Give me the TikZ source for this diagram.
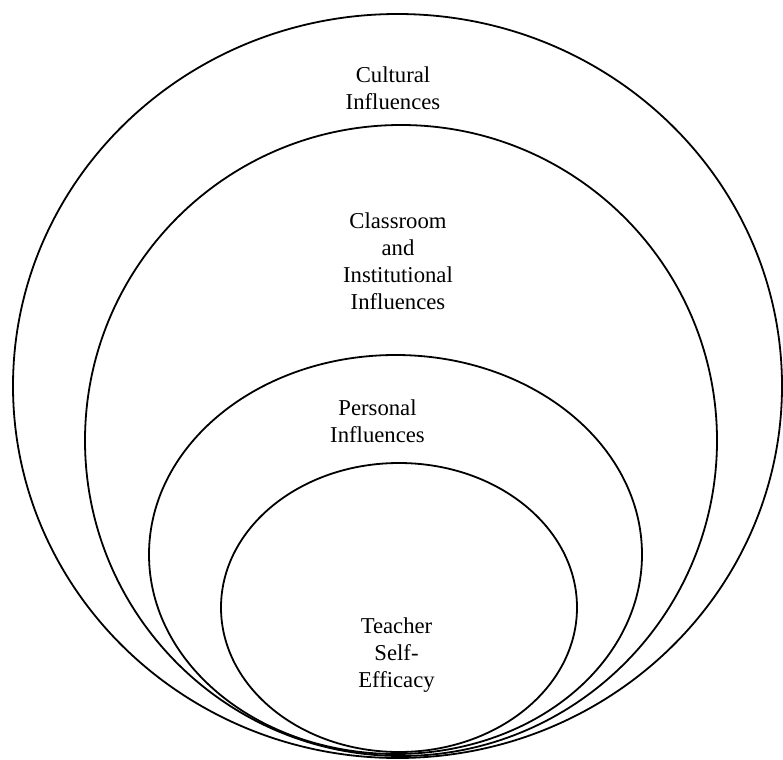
\documentclass[tikz,border=0pt]{standalone}
\usepackage{fontspec}
\setmainfont{Liberation Serif}
\tikzset{
  ring/.style={draw=black, line width=1.8pt},
  lbl/.style={align=center, anchor=north, inner sep=0pt, font=\fontsize{22.7}{27}\selectfont}
}
\begin{document}
\begin{tikzpicture}[x=1pt,y=-1pt]
\useasboundingbox (0,0) rectangle (783,759);
\draw[ring] (397.5,386) ellipse [x radius=384.5, y radius=372];
\draw[ring] (401,440.5) ellipse [x radius=316, y radius=315.5];
\draw[ring] (395.5,554.5) ellipse [x radius=246.5, y radius=199.5];
\draw[ring] (399,607.5) ellipse [x radius=178, y radius=144.5];
\node[lbl] (cultural) at (393,63.1) {\strut Cultural\\Influences};
\node[lbl] (classroom) at (398,209.1) {\strut Classroom\\and\\Institutional\\Influences};
\node[lbl] (personal) at (377.5,396.1) {\strut Personal\\Influences};
\node[lbl] (teacher) at (396.5,614.1) {\strut Teacher\\Self-\\Efficacy};
\end{tikzpicture}
\end{document}
